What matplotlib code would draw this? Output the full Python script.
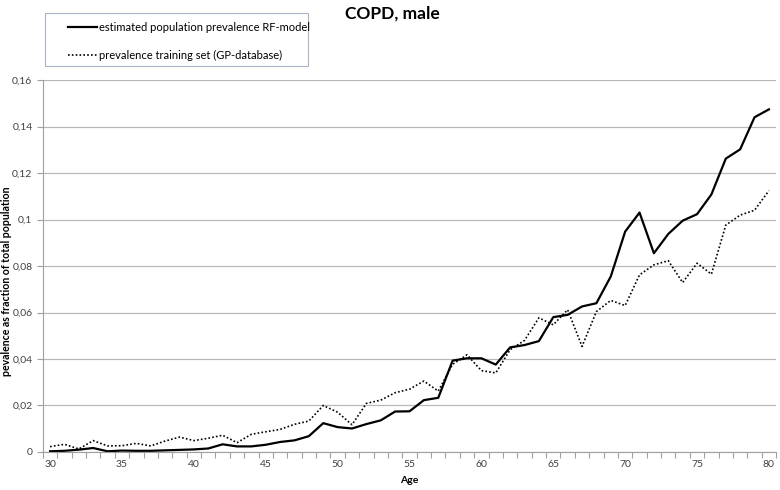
import matplotlib
matplotlib.use("Agg")
import matplotlib.pyplot as plt
from matplotlib.ticker import FixedLocator, FuncFormatter
from matplotlib.patches import Rectangle

ages = list(range(30, 81))
model = [0.0003, 0.0005, 0.0010, 0.0017, 0.0003, 0.0006, 0.0005, 0.0005, 0.0007, 0.0009,
         0.0011, 0.0015, 0.0033, 0.0024, 0.0024, 0.0031, 0.0043, 0.0050, 0.0068, 0.0124,
         0.0107, 0.0101, 0.0120, 0.0136, 0.0174, 0.0175, 0.0223, 0.0233, 0.0393, 0.0403,
         0.0403, 0.0376, 0.0450, 0.0460, 0.0477, 0.0580, 0.0590, 0.0626, 0.0640, 0.0755,
         0.0948, 0.1030, 0.0855, 0.0938, 0.0995, 0.1023, 0.1108, 0.1262, 0.1302, 0.1440,
         0.1474]
training = [0.0023, 0.0033, 0.0013, 0.0049, 0.0026, 0.0027, 0.0037, 0.0026, 0.0047, 0.0064,
            0.0049, 0.0059, 0.0072, 0.0040, 0.0076, 0.0087, 0.0097, 0.0119, 0.0133, 0.0200,
            0.0171, 0.0117, 0.0209, 0.0223, 0.0255, 0.0270, 0.0305, 0.0262, 0.0377, 0.0418,
            0.0350, 0.0340, 0.0440, 0.0480, 0.0577, 0.0547, 0.0612, 0.0454, 0.0604, 0.0652,
            0.0630, 0.0762, 0.0805, 0.0823, 0.0729, 0.0812, 0.0765, 0.0976, 0.1019, 0.1040,
            0.1124]
yticks = [0, 0.02, 0.04, 0.06, 0.08, 0.1, 0.12, 0.14, 0.16]
xlabels = [30, 35, 40, 45, 50, 55, 60, 65, 70, 75, 80]

plt.rcParams['font.family'] = ['Lato', 'DejaVu Sans']

W, H = 780.0, 490.0
fig = plt.figure(figsize=(7.8, 4.9), dpi=100)
ax = fig.add_axes([0.055, 0.0776, 0.94, 0.759])

ax.plot(ages, model, color='black', lw=1.6, label='estimated population prevalence RF-model')
ax.plot(ages, training, color='black', lw=1.2, linestyle=(0, (1, 1.3)),
        label='prevalence training set (GP-database)')

ax.set_xlim(29.5, 80.5)
ax.set_ylim(0, 0.16)
ax.set_yticks(yticks)
ax.yaxis.set_major_formatter(FuncFormatter(lambda v, p: ('%g' % round(v, 2)).replace('.', ',')))
ax.set_xticks(xlabels)
ax.xaxis.set_minor_locator(FixedLocator([a + 0.5 for a in range(29, 81)]))
ax.tick_params(axis='x', which='major', length=0, labelsize=7.5, pad=6)
ax.tick_params(axis='x', which='minor', length=4, color='#a0a0a0', width=0.8)
ax.tick_params(axis='y', length=4, color='#a0a0a0', width=0.8, labelsize=7.5)
for lab in ax.get_xticklabels() + ax.get_yticklabels():
    lab.set_color('#404040')

ax.grid(axis='y', color='#b8b8b8', lw=0.9)
ax.set_axisbelow(True)
for s in ['top', 'right']:
    ax.spines[s].set_visible(False)
for s in ['left', 'bottom']:
    ax.spines[s].set_color('#a0a0a0')
    ax.spines[s].set_linewidth(0.8)

ax.set_xlabel('Age', fontsize=7.5, fontweight='bold', labelpad=5)
ax.set_ylabel('pevalence as fraction of total population', fontsize=7.6, fontweight='bold', labelpad=1)
ax.yaxis.set_label_coords(-0.042, 0.46)

fig.text(0.503, 0.972, 'COPD, male', ha='center', va='center', fontsize=12.5, fontweight='bold')

# legend frame drawn separately, legend entries placed inside
fig.patches.append(Rectangle((45 / W, 1 - 66 / H), (308 - 45) / W, (66 - 13) / H,
                             transform=fig.transFigure, fill=False, edgecolor='#a8b4c8', lw=0.8))
leg = fig.legend(loc='upper left', bbox_to_anchor=(68 / W, 1 - 22 / H), frameon=False,
                 fontsize=8, handlelength=2.6, labelspacing=1.5, borderpad=0,
                 borderaxespad=0, handletextpad=0.15)

fig.savefig('out.png', dpi=100)
